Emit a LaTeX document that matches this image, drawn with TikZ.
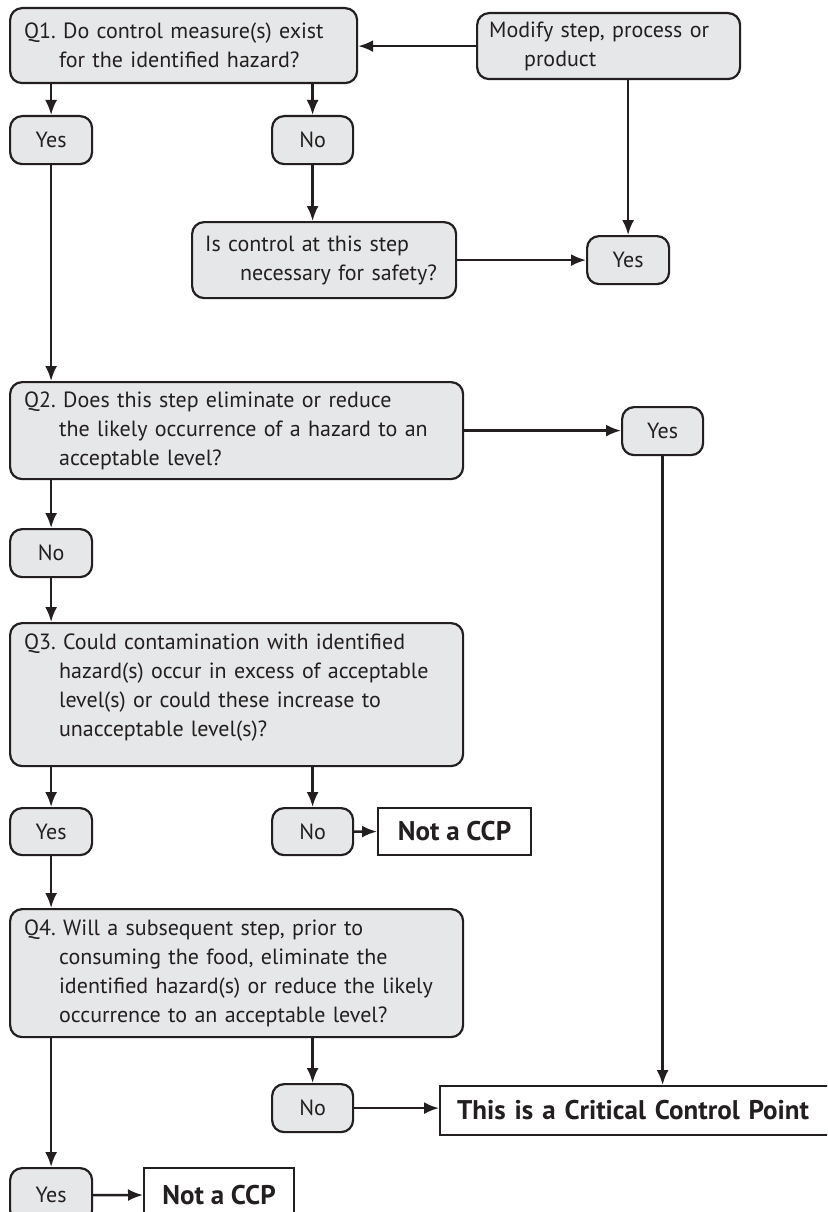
\documentclass[tikz,border=0pt]{standalone}
\usepackage{fontspec}
\setmainfont{PT Sans}
\usetikzlibrary{arrows.meta}
\definecolor{boxgray}{HTML}{E6E7E8}
\definecolor{ink}{HTML}{231F20}
\newcommand{\qind}{\hspace*{35pt}}

\begin{document}
\begin{tikzpicture}[x=1pt, y=-1pt, >={Latex[length=15pt,width=12pt]},
  every node/.style={font=\fontsize{22}{29}\selectfont, text=ink},
  qbox/.style={draw=ink, line width=2.2pt, fill=boxgray, rounded corners=12pt,
    anchor=north west, align=left, inner xsep=14pt, inner ysep=4pt},
  ansbox/.style={draw=ink, line width=2.2pt, fill=boxgray, rounded corners=12pt,
    anchor=north west, inner sep=0pt},
  endbox/.style={draw=ink, line width=2pt, fill=white, anchor=north west,
    inner sep=0pt, font=\fontsize{27}{29}\selectfont\bfseries},
  link/.style={->, draw=ink, line width=2.4pt}]
\clip (0,0) rectangle (827,1212);
% Q1 and the modify loop
\node[qbox, text width=319, minimum height=75] (q1) at (9,7)
  {Q1.\ Do control measure(s) exist\\\qind for the identified hazard?};
\node[qbox, text width=239, minimum height=66, inner xsep=12pt] (modify) at (476,12)
  {Modify step, process or\\\qind product};
\node[ansbox, minimum width=82, minimum height=48] (yes1) at (9,115) {Yes};
\node[ansbox, minimum width=81, minimum height=48] (no1) at (271,115) {No};
\node[qbox, text width=238, minimum height=76, inner xsep=13pt] (safe) at (191,221)
  {Is control at this step\\\qind necessary for safety?};
\node[ansbox, minimum width=82, minimum height=48] (yes2) at (586,235) {Yes};
\draw[link] (modify.west) -- (modify.west -| q1.east);
\draw[link] (q1.south -| yes1) -- (yes1);
\draw[link] (q1.south -| no1) -- (no1);
\draw[link] (no1) -- (no1 |- safe.north);
\draw[link] (safe.east) -- (yes2);
\draw[link] (modify.south -| yes2) -- (yes2);
% Q2
\node[qbox, text width=425, minimum height=97] (q2) at (9,381)
  {Q2.\ Does this step eliminate or reduce\\\qind the likely occurrence of a hazard to an\\\qind acceptable level?};
\node[ansbox, minimum width=81, minimum height=48] (yes3) at (621,406) {Yes};
\node[ansbox, minimum width=82, minimum height=48] (no2) at (9,528) {No};
\draw[link] (yes1) -- (yes1 |- q2.north);
\draw[link] (q2.east) -- (q2.east -| yes3.west);
\draw[link] (q2.south -| no2) -- (no2);
% Q3
\node[qbox, text width=425, minimum height=143] (q3) at (9,622)
  {Q3.\ Could contamination with identified\\\qind hazard(s) occur in excess of acceptable\\\qind level(s) or could these increase to\\\qind unacceptable level(s)?\\[-10pt]\mbox{}};
\node[ansbox, minimum width=82, minimum height=47] (yes4) at (9,807) {Yes};
\node[ansbox, minimum width=81, minimum height=47] (no3) at (271,807) {No};
\node[endbox, minimum width=153, minimum height=47] (notccp1) at (377,807) {Not a CCP};
\draw[link] (no2) -- (no2 |- q3.north);
\draw[link] (q3.south -| yes4) -- (yes4);
\draw[link] (q3.south -| no3) -- (no3);
\draw[link] (no3) -- (notccp1);
% Q4
\node[qbox, text width=425, minimum height=128] (q4) at (9,908)
  {Q4.\ Will a subsequent step, prior to\\\qind consuming the food, eliminate the\\\qind identified hazard(s) or reduce the likely\\\qind occurrence to an acceptable level?};
\node[ansbox, minimum width=81, minimum height=48] (no4) at (271,1083) {No};
\node[endbox, minimum width=400, minimum height=49, text width=383, align=left,
  inner xsep=17pt] (ccp) at (439,1085) {This is a Critical Control Point};
\node[ansbox, minimum width=82, minimum height=54] (yes5) at (9,1167) {Yes};
\node[endbox, minimum width=150, minimum height=54] (notccp2) at (143,1167) {Not a CCP};
\draw[link] (yes4) -- (yes4 |- q4.north);
\draw[link] (yes3) -- (yes3 |- ccp.north);
\draw[link] (q4.south -| no4) -- (no4);
\draw[link] (no4) -- (no4 -| ccp.west);
\draw[link] (q4.south -| yes5) -- (yes5);
\draw[link] (yes5) -- (notccp2);
\end{tikzpicture}
\end{document}
